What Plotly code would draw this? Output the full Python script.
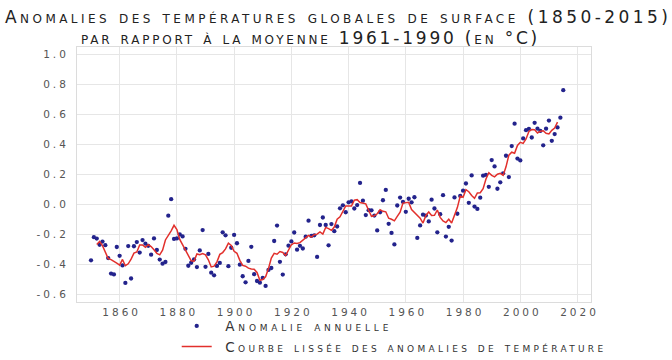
import plotly.graph_objects as go

# ---------------- data ----------------
years = list(range(1850, 2016))
anomalies = [
    -0.373, -0.218, -0.228, -0.269, -0.248, -0.272, -0.358, -0.461, -0.467, -0.284,
    -0.343, -0.407, -0.524, -0.278, -0.494, -0.279, -0.251, -0.321, -0.238, -0.262,
    -0.276, -0.335, -0.227, -0.304, -0.368, -0.395, -0.384, -0.075, 0.035, -0.230,
    -0.227, -0.200, -0.213, -0.296, -0.409, -0.389, -0.367, -0.418, -0.307, -0.171,
    -0.416, -0.330, -0.455, -0.473, -0.410, -0.390, -0.186, -0.206, -0.412, -0.289,
    -0.203, -0.259, -0.402, -0.479, -0.520, -0.377, -0.283, -0.465, -0.511, -0.522,
    -0.490, -0.544, -0.437, -0.424, -0.244, -0.141, -0.383, -0.468, -0.333, -0.275,
    -0.247, -0.187, -0.302, -0.276, -0.294, -0.215, -0.108, -0.210, -0.206, -0.350,
    -0.137, -0.087, -0.137, -0.273, -0.131, -0.178, -0.147, -0.026, -0.006, -0.052,
    0.014, 0.020, -0.027, -0.004, 0.144, 0.025, -0.071, -0.038, -0.039, -0.074,
    -0.173, -0.052, 0.028, 0.097, -0.129, -0.190, -0.267, -0.007, 0.046, 0.017,
    -0.049, 0.038, 0.014, 0.048, -0.223, -0.140, -0.068, -0.074, -0.113, 0.032,
    -0.027, -0.186, -0.065, 0.062, -0.214, -0.149, -0.241, 0.047, -0.062, 0.057,
    0.092, 0.140, 0.011, 0.194, -0.014, -0.030, 0.045, 0.192, 0.198, 0.118,
    0.296, 0.254, 0.105, 0.148, 0.208, 0.325, 0.183, 0.390, 0.539, 0.306,
    0.294, 0.441, 0.496, 0.505, 0.447, 0.545, 0.506, 0.491, 0.395, 0.506,
    0.560, 0.425, 0.470, 0.514, 0.579, 0.763,
]

smooth_years = list(range(1852, 2014))
smoothed = [
    -0.267, -0.247, -0.275, -0.322, -0.361, -0.368, -0.383, -0.392,
    -0.405, -0.367, -0.409, -0.396, -0.365, -0.325, -0.317, -0.270, -0.270, -0.286,
    -0.268, -0.281, -0.302, -0.326, -0.336, -0.305, -0.237, -0.210, -0.176, -0.139,
    -0.167, -0.233, -0.269, -0.301, -0.335, -0.376, -0.378, -0.330, -0.336, -0.328,
    -0.336, -0.369, -0.417, -0.412, -0.383, -0.333, -0.321, -0.297, -0.259, -0.274,
    -0.313, -0.326, -0.373, -0.407, -0.412, -0.425, -0.431, -0.432, -0.454, -0.506,
    -0.501, -0.483, -0.428, -0.358, -0.326, -0.332, -0.314, -0.320, -0.341, -0.302,
    -0.269, -0.257, -0.261, -0.255, -0.239, -0.221, -0.207, -0.218, -0.202, -0.198,
    -0.183, -0.197, -0.153, -0.161, -0.173, -0.151, -0.098, -0.082, -0.043, -0.010,
    -0.010, -0.010, 0.029, 0.032, 0.013, 0.011, 0.004, -0.039, -0.079, -0.075,
    -0.062, -0.035, -0.046, -0.049, -0.092, -0.099, -0.109, -0.080, -0.052, 0.009,
    0.013, 0.014, -0.034, -0.053, -0.074, -0.091, -0.124, -0.073, -0.050, -0.074,
    -0.072, -0.037, -0.086, -0.110, -0.121, -0.099, -0.124, -0.070, -0.021, 0.055,
    0.048, 0.099, 0.085, 0.060, 0.041, 0.077, 0.078, 0.105, 0.170, 0.212,
    0.194, 0.184, 0.202, 0.208, 0.194, 0.251, 0.329, 0.349, 0.342, 0.394,
    0.415, 0.408, 0.437, 0.487, 0.500, 0.499, 0.477, 0.489, 0.492, 0.475,
    0.471, 0.495, 0.510, 0.550,
]

x_tick_vals = [1860, 1880, 1900, 1920, 1940, 1960, 1980, 2000, 2020]
x_tick_labels = ["1860", "1880", "1900", "1920", "1940", "1960", "1980", "2000", "2020"]
y_tick_vals = [-0.6, -0.4, -0.2, 0.0, 0.2, 0.4, 0.6, 0.8, 1.0]
y_tick_labels = ["-0.6", "-0.4", "-0.2", "0.0", "0.2", "0.4", "0.6", "0.8", "1.0"]

title_line1 = "Anomalies des températures globales de surface (1850-2015)"
title_line2 = "par rapport à la moyenne 1961-1990 (en °C)"
name_points = "Anomalie annuelle"
name_curve = "Courbe lissée des anomalies de température"

# ---------------- styling helpers ----------------
FONT = "DejaVu Sans"
GAP = "\u00a0\u00a0"


def spaced(txt, px):
    return f'<span style="letter-spacing:{px}px">{txt}</span>'


fig = go.Figure()

fig.add_trace(go.Scatter(
    x=years, y=anomalies, mode="markers",
    name=GAP + spaced(name_points, 3.8),
    marker=dict(symbol="circle", size=4.3, color="#23238c", line=dict(width=0)),
))
fig.add_trace(go.Scatter(
    x=smooth_years, y=smoothed, mode="lines",
    name=GAP + spaced(name_curve, 3.3),
    line=dict(color="#e2302c", width=1.5),
))

axis_common = dict(
    showgrid=True, gridcolor="#e6e6e6", gridwidth=1,
    zeroline=False, showline=True, linecolor="#dcdcdc", linewidth=1,
    mirror=True, ticks="", automargin=False,
    tickfont=dict(family=FONT, size=10.5, color="#555555"),
)

fig.update_xaxes(
    range=[1845.1, 2024.7],
    tickmode="array", tickvals=x_tick_vals,
    ticktext=[spaced(t, 3) for t in x_tick_labels],
    ticklabelshift=2, ticklabelstandoff=0,
    **axis_common,
)
fig.update_yaxes(
    range=[-0.651, 1.051],
    tickmode="array", tickvals=y_tick_vals,
    ticktext=[spaced(t, 3) for t in y_tick_labels],
    ticklabelstandoff=5,
    **axis_common,
)

fig.add_annotation(
    text=spaced(title_line1, 3.45), xref="paper", yref="paper",
    x=0.508, y=1.119, xanchor="center", yanchor="middle", showarrow=False,
    font=dict(family=FONT, size=17, color="#222222", variant="small-caps"),
)
fig.add_annotation(
    text=spaced(title_line2, 2.8), xref="paper", yref="paper",
    x=0.455, y=1.037, xanchor="center", yanchor="middle", showarrow=False,
    font=dict(family=FONT, size=17, color="#222222", variant="small-caps"),
)

fig.update_layout(
    width=672, height=360, autosize=False,
    margin=dict(l=77, r=81, t=47, b=58, autoexpand=False),
    paper_bgcolor="white", plot_bgcolor="white",
    showlegend=True,
    legend=dict(
        x=0.194, y=-0.034, xanchor="left", yanchor="top",
        orientation="v", itemwidth=30,
        font=dict(family=FONT, size=13.5, color="#333333", variant="small-caps"),
        bgcolor="rgba(0,0,0,0)", borderwidth=0, tracegroupgap=0,
    ),
)

fig.write_html(
    "out.html",
    config={"displayModeBar": False},
    post_script="document.body.style.margin='0px';document.body.style.padding='0px';",
)
